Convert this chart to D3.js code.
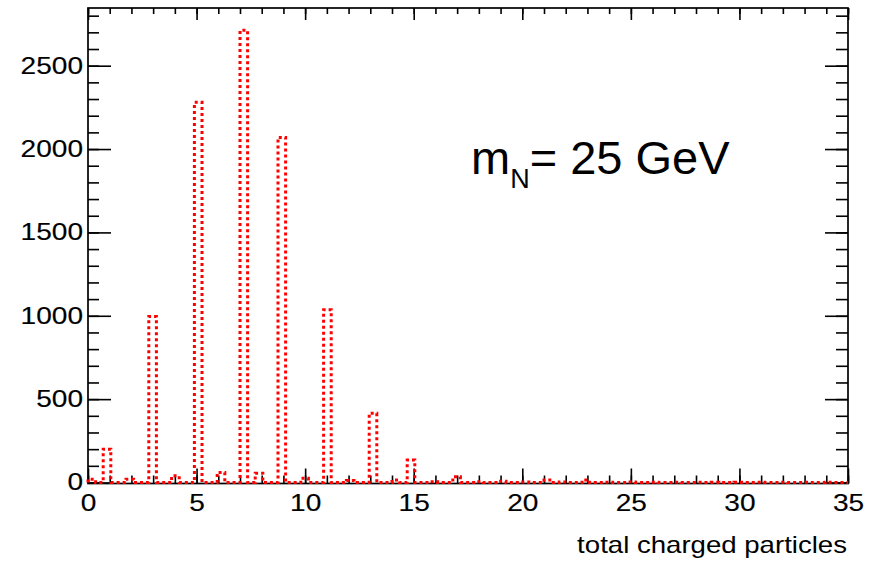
<!DOCTYPE html>
<html>
<head>
<meta charset="utf-8">
<script src="https://cdn.jsdelivr.net/npm/d3@7"></script>
<style>
  body { margin: 0; background: #fff; }
  svg { display: block; }
  text { font-family: "Liberation Sans", Arial, Helvetica, sans-serif; fill: #000; }
</style>
</head>
<body>
<svg id="chart" width="871" height="563"></svg>
<script>
// Multiplicity (integer number of charged particles) and counts per value
const multiplicity = [0,1,2,3,4,5,6,7,8,9,10,11,12,13,14,15,16,17,18,19,20,21,22,23,24,25,26,27,28,29,30,31,32,33,34];
const counts       = [20,200,20,995,40,2280,60,2712,55,2070,25,1036,12,415,15,135,5,35,5,8,3,15,3,15,2,3,2,2,1,1,1,1,1,1,1];
// histogram binning (ROOT style TH1 with 100 bins on [0,35])
const nBins = 100, xMin = 0, xMax = 35;
const xMajorTicks = [0,5,10,15,20,25,30,35];
const yMajorTicks = [0,500,1000,1500,2000,2500];
const xTitle = "total charged particles";

const svg = d3.select("#chart");
const L = 88, R = 848, T = 8, B = 482.5;
const yMaxVal = 2846;
const x = d3.scaleLinear().domain([xMin, xMax]).range([L, R]);
const y = d3.scaleLinear().domain([0, yMaxVal]).range([B, T]);

// fill bins
const binW = (xMax - xMin) / nBins;
const bins = new Array(nBins).fill(0);
multiplicity.forEach((n, i) => {
  const b = Math.floor((n - xMin) / binW + 1e-9);
  if (b >= 0 && b < nBins) bins[b] += counts[i];
});

const xMinor = d3.range(0, 36, 1);
const yMinor = d3.range(0, 2847, 100);
const SX = 1.22;

// bottom minor
svg.append("g").attr("transform", `translate(0,${B + 1})`)
  .call(d3.axisBottom(x).tickValues(xMinor).tickSizeInner(-8).tickSizeOuter(0).tickFormat(""))
  .call(g => g.select(".domain").remove());
// bottom major with labels
const gx = svg.append("g").attr("transform", `translate(0,${B + 1})`)
  .call(d3.axisBottom(x).tickValues(xMajorTicks).tickSizeInner(-15).tickSizeOuter(0).tickPadding(11).tickFormat(d3.format("d")));
gx.select(".domain").remove();
gx.selectAll(".tick text").attr("font-size", 23).attr("transform", `scale(${SX},1)`)
  .attr("stroke", "#000").attr("stroke-width", 0.15)
  .style("font-family", '"Liberation Sans", Arial, sans-serif');

// top
svg.append("g").attr("transform", `translate(0,${T})`)
  .call(d3.axisTop(x).tickValues(xMinor).tickSizeInner(-6).tickSizeOuter(0).tickFormat(""))
  .call(g => g.select(".domain").remove());
svg.append("g").attr("transform", `translate(0,${T})`)
  .call(d3.axisTop(x).tickValues(xMajorTicks).tickSizeInner(-12).tickSizeOuter(0).tickFormat(""))
  .call(g => g.select(".domain").remove());

// left
svg.append("g").attr("transform", `translate(${L},0)`)
  .call(d3.axisLeft(y).tickValues(yMinor).tickSizeInner(-11).tickSizeOuter(0).tickFormat(""))
  .call(g => g.select(".domain").remove());
const gy = svg.append("g").attr("transform", `translate(${L},0)`)
  .call(d3.axisLeft(y).tickValues(yMajorTicks).tickSizeInner(-23).tickSizeOuter(0).tickPadding(5).tickFormat(d3.format("d")));
gy.select(".domain").remove();
gy.selectAll(".tick text").attr("font-size", 23).attr("x", -5 / SX).attr("transform", `scale(${SX},1)`)
  .attr("stroke", "#000").attr("stroke-width", 0.15)
  .style("font-family", '"Liberation Sans", Arial, sans-serif');

// right
svg.append("g").attr("transform", `translate(${R},0)`)
  .call(d3.axisRight(y).tickValues(yMinor).tickSizeInner(-12).tickSizeOuter(0).tickFormat(""))
  .call(g => g.select(".domain").remove());
svg.append("g").attr("transform", `translate(${R},0)`)
  .call(d3.axisRight(y).tickValues(yMajorTicks).tickSizeInner(-23).tickSizeOuter(0).tickFormat(""))
  .call(g => g.select(".domain").remove());

svg.selectAll(".tick line").attr("stroke", "#000").attr("stroke-width", 1.6);

// frame rectangle
svg.append("rect").attr("x", L).attr("y", T).attr("width", R - L).attr("height", B + 1 - T)
  .attr("fill", "none").attr("stroke", "#000").attr("stroke-width", 1.7);

// histogram step outline
const pts = [[xMin, 0]];
bins.forEach((v, i) => {
  const lo = xMin + i * binW, hi = lo + binW;
  pts.push([lo, v]); pts.push([hi, v]);
});
pts.push([xMax, 0]);
const line = d3.line().x(d => x(d[0])).y(d => y(d[1]));
svg.append("path").datum(pts).attr("d", line)
  .attr("fill", "none").attr("stroke", "#ff0000").attr("stroke-width", 3)
  .attr("stroke-dasharray", "3,3");

// x title
svg.append("text").attr("transform", `translate(${R - 1},553) scale(1.2,1)`)
  .attr("text-anchor", "end").attr("font-size", 23).text(xTitle);

// annotation
const ann = svg.append("text").attr("x", 471).attr("y", 174).attr("font-size", 47);
ann.append("tspan").text("m");
ann.append("tspan").attr("font-size", 27).attr("dy", 14).text("N");
ann.append("tspan").attr("dy", -14).text("= 25 GeV");
</script>
</body>
</html>
